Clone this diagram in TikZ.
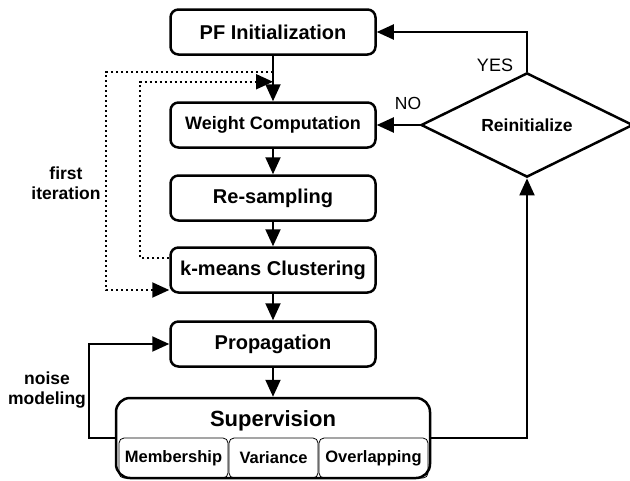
\documentclass[tikz,border=0pt]{standalone}
\usepackage{fontspec}
\setmainfont{Liberation Sans}
\usetikzlibrary{calc}
\usetikzlibrary{shapes.geometric}
\usetikzlibrary{arrows.meta}

\tikzset{
  stage/.style={draw,line width=2.5pt,rounded corners=8pt,minimum width=205pt,
    minimum height=45pt,inner sep=0pt,font=\fontsize{20}{22}\selectfont\bfseries},
  part/.style={draw,line width=0.8pt,rounded corners=5pt,minimum height=40pt,
    inner sep=0pt,font=\fontsize{16.5}{18}\selectfont\bfseries},
  flow/.style={line width=2pt,-{Triangle[length=17pt,width=15pt]}},
  firstpass/.style={dash pattern=on 2pt off 3pt},
  tag/.style={inner sep=0pt,font=\fontsize{17.5}{20}\selectfont\bfseries,align=center},
}

\begin{document}
\begin{tikzpicture}[x=1pt,y=-1pt]
\useasboundingbox (0,0) rectangle (630,480);
% main chain
\node[stage] (pf) at (273,32) {PF Initialization};
\node[stage,font=\fontsize{18}{20}\selectfont\bfseries] (wc) at (273,125) {Weight Computation};
\node[stage] (rs) at (273,198) {Re-sampling};
\node[stage] (km) at (273,270) {k-means Clustering};
\node[stage] (pr) at (273,344) {Propagation};

% supervision block
\node[part,minimum width=109pt] (mb) at (173.5,458) {Membership};
\node[part,minimum width=89pt] (va) at (273.5,458) {Variance};
\node[part,minimum width=109pt] (ov) at (373.5,458) {Overlapping};
\node[stage,minimum width=314pt,minimum height=80pt,rounded corners=14pt] (sv) at (273,438) {};
\node[inner sep=0pt,font=\fontsize{22}{24}\selectfont\bfseries] (svt) at (273,421) {Supervision};

\node[draw,diamond,line width=2.5pt,minimum width=212pt,minimum height=85pt,inner sep=0pt,
  font=\fontsize{17.5}{19}\selectfont\bfseries] (ri) at (527,125) {Reinitialize};

\draw[flow] (pf) -- (wc);
\draw[flow] (wc) -- (rs);
\draw[flow] (rs) -- (km);
\draw[flow] (km) -- (pr);
\draw[flow] (pr) -- (sv);
\draw[flow] (ri) -- (wc);
\draw[flow] (ri.north) |- (pf.east);
\draw[flow] (sv.east) -| (ri.south);
\draw[flow] (sv.west) -- ++(-26,0) |- (pr.west);

% first iteration loops
\coordinate (d1) at ($(pf.south)+(0,16)$);
\coordinate (d2) at ($(km.west)+(0,20)$);
\coordinate (d3) at ($(km.west)+(0,-12)$);
\coordinate (d4) at ($(pf.south)+(0,26)$);
\draw[flow,firstpass] (d1) -| ($(d2)+(-63,0)$) -- (d2);
\draw[flow,firstpass] (d3) -| ($(d4)+(-133,0)$) -- (d4);

\node[tag,font=\fontsize{18}{20}\selectfont] (yes) at (495,65) {YES};
\node[tag,font=\fontsize{17.5}{20}\selectfont] (no) at (408,103) {NO};
\node[tag] (fi) at (66,183) {first\\iteration};
\node[tag] (nm) at (47,390) {noise\\modeling};
\end{tikzpicture}
\end{document}
